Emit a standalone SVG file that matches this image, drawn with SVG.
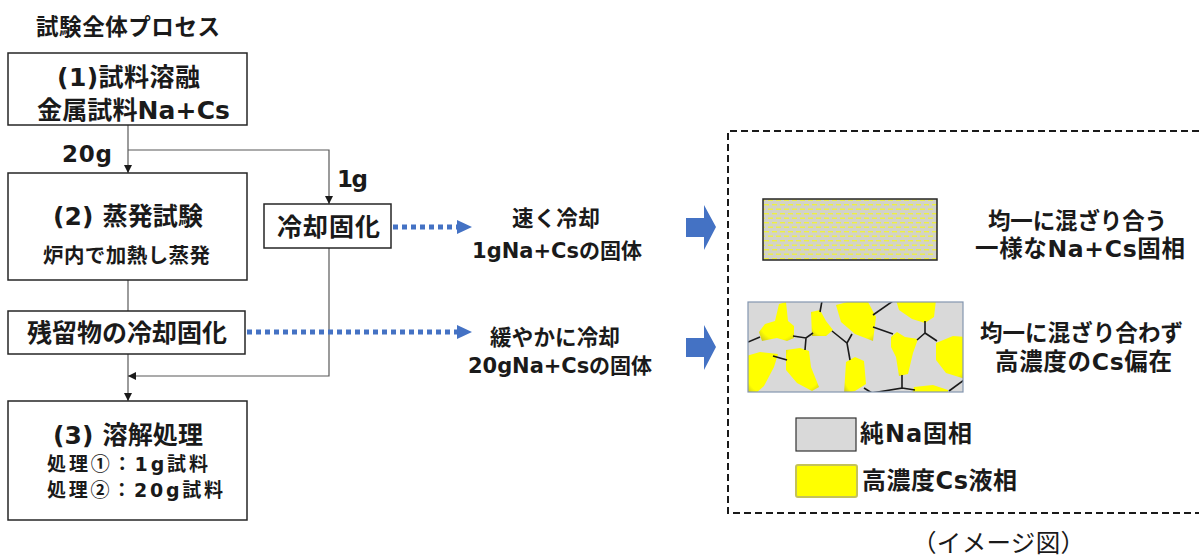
<svg xmlns="http://www.w3.org/2000/svg" width="1199" height="558" viewBox="0 0 1199 558">
  <style>
    .jp { font-family: "Noto Sans CJK JP", "Noto Sans", sans-serif; font-weight: bold; fill: #1a1a1a; }
    .lat { font-family: "DejaVu Sans", "Noto Sans CJK JP", sans-serif; }
    .box { fill: #ffffff; stroke: #262626; stroke-width: 1.5; }
    .wire { fill: none; stroke: #595959; stroke-width: 1.2; }
    .dot { fill: none; stroke: #4472c4; stroke-width: 5; stroke-dasharray: 5 4; }
    .blue { fill: #4472c4; }
    .grain { fill: url(#grainFill); }
    .edge { fill: none; stroke: #1a1a1a; stroke-width: 1.6; }
  </style>
  <defs>
    <marker id="tip" viewBox="0 0 10 10" refX="10" refY="5" markerWidth="8" markerHeight="8" markerUnits="userSpaceOnUse" orient="auto">
      <path d="M0,0 L10,5 L0,10 Z" fill="#1a1a1a"/>
    </marker>
    <pattern id="mix" width="8" height="9" patternUnits="userSpaceOnUse">
      <rect width="8" height="9" fill="#d2d2c8"/>
      <line x1="0" y1="2.2" x2="5" y2="2.2" stroke="#eef040" stroke-width="1.4"/>
      <line x1="4" y1="6.7" x2="9" y2="6.7" stroke="#eef040" stroke-width="1.4"/>
      <line x1="-4" y1="6.7" x2="1" y2="6.7" stroke="#eef040" stroke-width="1.4"/>
    </pattern>
    <radialGradient id="grainFill" cx="0.55" cy="0.4" r="0.75">
      <stop offset="0" stop-color="#ffff00"/>
      <stop offset="0.75" stop-color="#ffff00"/>
      <stop offset="1" stop-color="#cdc820"/>
    </radialGradient>
    <clipPath id="grainClip">
      <rect x="748" y="302" width="215" height="90"/>
    </clipPath>
  </defs>

  <rect width="1199" height="558" fill="#ffffff"/>

  <!-- heading -->
  <text class="jp" x="36" y="35" font-size="22.5" textLength="184">試験全体プロセス</text>

  <!-- flow connectors -->
  <g id="connectors">
    <path class="wire" d="M128,125 V173" marker-end="url(#tip)"/>
    <path class="wire" d="M128,150 H329 V204" marker-end="url(#tip)"/>
    <path class="wire" d="M128,280 V311"/>
    <path class="wire" d="M128,354 V401" marker-end="url(#tip)"/>
    <path class="wire" d="M329,248 V376 H128" marker-end="url(#tip)"/>
    <text class="jp lat" x="62" y="162" font-size="23" textLength="50">20g</text>
    <text class="jp lat" x="337" y="187" font-size="23" textLength="31">1g</text>
    <!-- dotted blue arrows toward the outcomes -->
    <line class="dot" x1="393" y1="227" x2="457" y2="227"/>
    <path class="blue" d="M457,220 L472,227 L457,234 Z"/>
    <line class="dot" x1="247" y1="332" x2="457" y2="332"/>
    <path class="blue" d="M457,325 L472,332 L457,339 Z"/>
    <!-- block arrows into the illustration panel -->
    <path class="blue" d="M686,218 H704 V205 L716,227 L704,250 V237 H686 Z"/>
    <path class="blue" d="M686,338 H704 V325 L716,347 L704,370 V357 H686 Z"/>
  </g>

  <g id="melt">
    <rect class="box" x="8" y="53" width="239" height="72"/>
    <text class="jp lat" x="57" y="86" font-size="25" textLength="143">(1)試料溶融</text>
    <text class="jp lat" x="37" y="119" font-size="25" textLength="193">金属試料Na+Cs</text>
  </g>

  <g id="evaporate">
    <rect class="box" x="8" y="173" width="239" height="107"/>
    <text class="jp lat" x="53" y="225" font-size="25" textLength="150">(2) 蒸発試験</text>
    <text class="jp" x="43" y="263" font-size="20.5" textLength="167">炉内で加熱し蒸発</text>
  </g>

  <g id="cool-1g">
    <rect class="box" x="264" y="204" width="127" height="44"/>
    <text class="jp" x="277" y="236" font-size="25" textLength="103">冷却固化</text>
  </g>

  <g id="cool-residue">
    <rect class="box" x="8" y="311" width="237" height="43"/>
    <text class="jp" x="27" y="342" font-size="25" textLength="200">残留物の冷却固化</text>
  </g>

  <g id="dissolve">
    <rect class="box" x="8" y="401" width="239" height="119"/>
    <text class="jp lat" x="53" y="444" font-size="25" textLength="150">(3) 溶解処理</text>
    <text class="jp" x="47" y="471" font-size="19" textLength="161">処理①：<tspan class="lat">1g</tspan>試料</text>
    <text class="jp" x="47" y="497" font-size="19" textLength="176">処理②：<tspan class="lat">20g</tspan>試料</text>
  </g>

  <g id="fast-cool">
    <text class="jp" x="512" y="226" font-size="21.5" textLength="88">速く冷却</text>
    <text class="jp lat" x="472" y="258" font-size="21" textLength="170">1gNa+Csの固体</text>
  </g>

  <g id="slow-cool">
    <text class="jp" x="490" y="345" font-size="21.5" textLength="130">緩やかに冷却</text>
    <text class="jp lat" x="468" y="373" font-size="21" textLength="184">20gNa+Csの固体</text>
  </g>

  <!-- illustration panel -->
  <g id="panel">
    <path d="M1199,131 H728 V513 H1199" fill="none" stroke="#1a1a1a" stroke-width="2" stroke-dasharray="7 4"/>
  </g>

  <g id="uniform-solid">
    <rect x="763" y="199" width="174" height="61" fill="url(#mix)" stroke="#262626" stroke-width="1.5"/>
    <text class="jp" x="988" y="229" font-size="22.5" textLength="179">均一に混ざり合う</text>
    <text class="jp lat" x="975" y="257" font-size="23.5" textLength="210">一様なNa+Cs固相</text>
  </g>

  <g id="segregated-solid">
    <rect x="748" y="302" width="215" height="90" fill="#d9d9d9"/>
    <g clip-path="url(#grainClip)">
      <path class="grain" d="M759,332 L765,324 L775,321 L779,304 L786,302 L788,321 L794,326 L794,338 L787,341 L777,338 L762,341 Z"/>
      <path class="grain" d="M811,312 L820,310 L826,321 L833,330 L826,336 L812,336 Z"/>
      <path class="grain" d="M836,305 L855,300 L868,302 L876,317 L873,341 L855,334 L841,322 Z"/>
      <path class="grain" d="M896,300 L936,300 L934,317 L925,323 L912,319 L899,310 Z"/>
      <path class="grain" d="M891,337 L897,332 L905,337 L918,339 L913,353 L908,374 L899,376 L896,357 L891,347 Z"/>
      <path class="grain" d="M936,343 L953,336 L965,337 L965,379 L946,373 L936,360 Z"/>
      <path class="grain" d="M746,356 L760,352 L778,354 L774,367 L764,386 L755,394 L746,394 Z"/>
      <path class="grain" d="M786,350 L800,348 L809,351 L811,367 L819,387 L812,391 L797,383 L786,370 Z"/>
      <path class="grain" d="M846,362 L855,357 L864,361 L866,384 L855,391 L844,394 Z"/>
      <path class="grain" d="M914,387 L933,385 L948,390 L948,394 L912,394 Z"/>
      <path class="edge" d="M748,342 L760,337"/>
      <path class="edge" d="M822,301 L820,312"/>
      <path class="edge" d="M793,336 L806,338 L813,333 M806,338 L805,350"/>
      <path class="edge" d="M832,331 L847,343 L852,334 M847,343 L850,360"/>
      <path class="edge" d="M773,356 L787,360"/>
      <path class="edge" d="M873,327 L893,334"/>
      <path class="edge" d="M873,315 L893,301"/>
      <path class="edge" d="M925,321 L925,333 L917,340 M925,333 L937,341"/>
      <path class="edge" d="M902,375 L902,388 L872,393 M902,388 L915,390"/>
      <path class="edge" d="M864,388 L872,393"/>
      <path class="edge" d="M949,391 L964,380"/>
    </g>
    <rect x="748" y="302" width="215" height="90" fill="none" stroke="#8496b0" stroke-width="1.2"/>
    <text class="jp" x="980" y="341" font-size="22.5" textLength="203">均一に混ざり合わず</text>
    <text class="jp lat" x="995" y="370" font-size="23.5" textLength="177">高濃度のCs偏在</text>
  </g>

  <g id="legend-na">
    <rect x="796" y="418" width="60" height="33" fill="#d9d9d9" stroke="#333333" stroke-width="1.2"/>
    <text class="jp lat" x="860" y="442" font-size="24" textLength="112">純Na固相</text>
  </g>

  <g id="legend-cs">
    <rect x="796" y="465" width="61" height="32" rx="2" fill="#ffff00" stroke="#c4c25a" stroke-width="2"/>
    <text class="jp lat" x="862" y="489" font-size="24" textLength="155">高濃度Cs液相</text>
  </g>

  <text x="912" y="552" font-family="'Liberation Serif', 'Noto Sans CJK JP', serif" font-size="24.5" textLength="173" fill="#1a1a1a">（イメージ図）</text>
</svg>
